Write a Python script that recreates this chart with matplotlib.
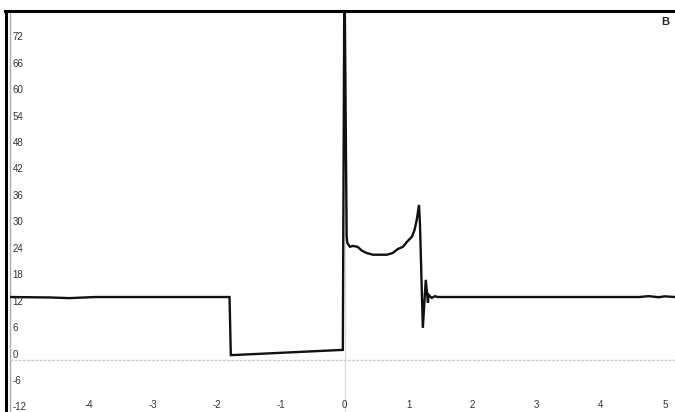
import numpy as np
import matplotlib
matplotlib.use("Agg")
import matplotlib.pyplot as plt
from matplotlib.lines import Line2D
from matplotlib.transforms import ScaledTranslation

plt.rcParams["font.family"] = ["Liberation Sans", "DejaVu Sans"]

# trace
x_vals = [-5.23, -4.6, -4.3, -3.9, -3.5, -2.5, -1.80, -1.78, -0.03, -0.005, 0.03,
          0.04, 0.08, 0.125, 0.2, 0.27, 0.34, 0.44, 0.55, 0.66, 0.75, 0.83,
          0.91, 0.97, 1.05, 1.09, 1.125, 1.16, 1.175, 1.22, 1.266, 1.30, 1.31,
          1.36, 1.41, 1.45, 2.5, 4.6, 4.75, 4.9, 5.0, 5.16]
y_vals = [14.3, 14.2, 14.05, 14.3, 14.3, 14.3, 14.3, 1.1, 2.3, 90.0, 28.0,
          26.6, 25.7, 25.9, 25.7, 24.8, 24.3, 23.9, 23.9, 23.9, 24.3, 25.2,
          25.7, 26.8, 28.0, 29.5, 31.8, 35.2, 31.0, 7.3, 18.2, 13.0, 14.8,
          14.1, 14.5, 14.3, 14.3, 14.3, 14.5, 14.25, 14.45, 14.3]

y_ticks = [72, 66, 60, 54, 48, 42, 36, 30, 24, 18, 12, 6, 0, -6, -12]
x_ticks = [-4, -3, -2, -1, 0, 1, 2, 3, 4, 5]

W, H = 675, 412
fig = plt.figure(figsize=(W / 100, H / 100), dpi=100)
ax = fig.add_axes([10 / W, 0, 665 / W, (H - 12) / H])
ax.set_xlim(-5.23, 5.16)
ax.set_ylim(-11.8, 79.0)

# light reference lines
ax.axhline(0, color="#cccccc", lw=1, ls=(0, (2, 1)), zorder=1)
ax.axvline(0, color="#dddddd", lw=1, zorder=1)

ax.plot(x_vals, y_vals, color="#111111", lw=1.7, zorder=3, solid_joinstyle="miter")

for s in ["top", "right", "bottom"]:
    ax.spines[s].set_visible(False)
ax.spines["left"].set_color("#aaaaaa")
ax.spines["left"].set_linewidth(1)
ax.set_xticks([])
ax.set_yticks([])

up = ScaledTranslation(0, 5.5 / 100, fig.dpi_scale_trans)
ytr = ax.get_yaxis_transform()
for v in y_ticks:
    ax.text(0.004, v, str(v), transform=ytr + up, ha="left", va="center",
            fontsize=7, color="#333333")

xtr = ax.get_xaxis_transform()
for v in x_ticks:
    ax.text(v, 7 / 400, str(v), transform=xtr, ha="center", va="center",
            fontsize=7, color="#333333")

ax.text(0.985, 0.975, "B", transform=ax.transAxes, ha="center", va="center",
        fontsize=8, fontweight="bold", color="#222222")

# black frame on the left and top edges
fig.add_artist(Line2D([6 / W, 6 / W], [0, (H - 10.5) / H], color="black",
                      lw=2.2, transform=fig.transFigure))
fig.add_artist(Line2D([5 / W, 1], [(H - 10.5) / H, (H - 10.5) / H], color="black",
                      lw=2.2, transform=fig.transFigure))

fig.savefig("out.png", dpi=100)
